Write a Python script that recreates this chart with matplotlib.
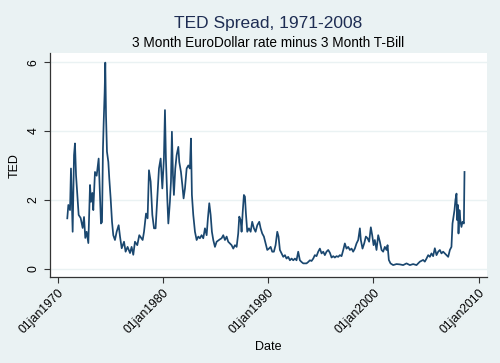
import matplotlib
matplotlib.use("Agg")
import matplotlib.pyplot as plt

# TED spread (percent)
years = [1970.91, 1971.01, 1971.17, 1971.26, 1971.42, 1971.55, 1971.64, 1971.74, 1971.86, 1971.99,
         1972.18, 1972.37, 1972.50, 1972.62, 1972.75, 1972.91, 1973.07, 1973.16, 1973.29, 1973.38,
         1973.54, 1973.70, 1973.89, 1974.02, 1974.11, 1974.21, 1974.30, 1974.37, 1974.46, 1974.52,
         1974.59, 1974.68, 1974.81, 1974.90, 1975.03, 1975.16, 1975.28, 1975.44, 1975.60, 1975.79,
         1975.92, 1976.08, 1976.30, 1976.45, 1976.64, 1976.87, 1977.02, 1977.18, 1977.34, 1977.56,
         1977.75, 1978.07, 1978.20, 1978.39, 1978.54, 1978.67, 1978.83, 1978.99, 1979.15, 1979.30,
         1979.46, 1979.62, 1979.78, 1979.94, 1980.09, 1980.19, 1980.28, 1980.41, 1980.51, 1980.66,
         1980.76, 1980.85, 1980.95, 1981.04, 1981.17, 1981.30, 1981.46, 1981.55, 1981.71, 1981.84,
         1981.96, 1982.09, 1982.25, 1982.41, 1982.56, 1982.66, 1982.75, 1982.88, 1983.04, 1983.20,
         1983.36, 1983.51, 1983.67, 1983.83, 1983.99, 1984.15, 1984.27, 1984.40, 1984.53, 1984.65,
         1984.78, 1984.94, 1985.10, 1985.41, 1985.57, 1985.73, 1985.89, 1986.05, 1986.20, 1986.36,
         1986.52, 1986.68, 1986.84, 1987.00, 1987.15, 1987.25, 1987.38, 1987.47, 1987.57, 1987.69,
         1987.79, 1987.88, 1988.01, 1988.17, 1988.33, 1988.48, 1988.64, 1988.80, 1988.96, 1989.15,
         1989.28, 1989.43, 1989.59, 1989.75, 1989.91, 1990.07, 1990.23, 1990.38, 1990.54, 1990.70,
         1990.86, 1990.98, 1991.11, 1991.27, 1991.43, 1991.59, 1991.74, 1991.90, 1992.06, 1992.22,
         1992.38, 1992.54, 1992.69, 1992.85, 1993.01, 1993.17, 1993.33, 1993.49, 1993.64, 1993.80,
         1993.96, 1994.12, 1994.28, 1994.43, 1994.59, 1994.75, 1994.91, 1995.07, 1995.23, 1995.38,
         1995.54, 1995.70, 1995.86, 1996.02, 1996.18, 1996.33, 1996.49, 1996.65, 1996.81, 1996.97,
         1997.13, 1997.28, 1997.44, 1997.60, 1997.76, 1997.92, 1998.07, 1998.23, 1998.39, 1998.55,
         1998.71, 1998.80, 1998.96, 1999.12, 1999.28, 1999.44, 1999.59, 1999.75, 1999.88, 2000.01,
         2000.13, 2000.29, 2000.45, 2000.61, 2000.77, 2000.92, 2001.08, 2001.24, 2001.34, 2001.46,
         2001.62, 2001.87, 2002.19, 2002.51, 2002.82, 2003.14, 2003.46, 2003.77, 2004.09, 2004.41,
         2004.72, 2004.88, 2005.04, 2005.20, 2005.36, 2005.51, 2005.67, 2005.83, 2005.99, 2006.15,
         2006.31, 2006.46, 2006.62, 2006.78, 2006.94, 2007.10, 2007.26, 2007.41, 2007.51, 2007.60,
         2007.70, 2007.79, 2007.89, 2007.95, 2008.02, 2008.08, 2008.17, 2008.27, 2008.36, 2008.46,
         2008.59, 2008.65]
ted = [1.46, 1.85, 1.70, 2.91, 1.07, 3.30, 3.64, 2.72, 2.14, 1.56,
       1.47, 1.18, 1.50, 0.89, 1.07, 0.74, 2.43, 1.94, 2.20, 1.70,
       2.81, 2.70, 3.20, 2.10, 1.31, 1.35, 3.50, 4.27, 5.14, 5.99,
       4.46, 3.40, 3.10, 2.62, 2.04, 1.36, 0.97, 0.83, 1.07, 1.26,
       0.93, 0.59, 0.78, 0.49, 0.63, 0.45, 0.63, 0.40, 0.78, 0.68,
       0.97, 0.83, 1.07, 1.60, 1.46, 2.86, 2.53, 1.56, 1.17, 1.17,
       2.04, 2.91, 3.20, 2.33, 3.20, 4.61, 3.20, 2.04, 1.31, 1.94,
       2.53, 3.98, 2.72, 2.14, 2.91, 3.30, 3.54, 3.10, 2.81, 2.43,
       2.04, 2.33, 2.91, 3.00, 2.91, 3.78, 2.14, 1.56, 1.07, 0.83,
       0.93, 0.88, 0.97, 0.88, 1.17, 0.97, 1.46, 1.90, 1.56, 1.07,
       0.83, 0.63, 0.78, 0.85, 0.88, 0.97, 0.83, 0.93, 0.78, 0.73,
       0.68, 0.58, 0.68, 0.63, 1.02, 1.51, 1.41, 1.07, 1.61, 2.14,
       2.09, 1.61, 1.07, 1.17, 1.07, 1.36, 1.17, 1.07, 1.26, 1.36,
       1.17, 1.02, 0.93, 0.73, 0.54, 0.58, 0.63, 0.49, 0.49, 0.68,
       1.07, 0.93, 0.54, 0.44, 0.34, 0.39, 0.29, 0.34, 0.24, 0.29,
       0.24, 0.29, 0.24, 0.49, 0.24, 0.19, 0.15, 0.15, 0.15, 0.19,
       0.24, 0.22, 0.29, 0.39, 0.36, 0.49, 0.58, 0.44, 0.49, 0.39,
       0.49, 0.54, 0.46, 0.32, 0.36, 0.32, 0.36, 0.34, 0.39, 0.36,
       0.54, 0.73, 0.58, 0.63, 0.54, 0.58, 0.49, 0.58, 0.73, 0.83,
       1.17, 0.83, 0.58, 0.73, 0.93, 0.88, 0.78, 1.20, 0.97, 0.68,
       0.83, 0.54, 0.97, 0.78, 0.54, 0.49, 0.63, 0.54, 0.68, 0.25,
       0.15, 0.10, 0.13, 0.12, 0.10, 0.15, 0.10, 0.13, 0.10, 0.20,
       0.25, 0.20, 0.29, 0.39, 0.34, 0.44, 0.36, 0.59, 0.39, 0.49,
       0.54, 0.44, 0.49, 0.44, 0.39, 0.34, 0.54, 0.63, 1.31, 1.50,
       1.70, 2.00, 2.18, 1.41, 1.85, 1.02, 1.70, 1.36, 1.21, 1.36,
       1.31, 2.81]

tick_years = [1970, 1980, 1990, 2000, 2010]
tick_labels = ['01jan1970', '01jan1980', '01jan1990', '01jan2000', '01jan2010']
y_ticks = [0, 2, 4, 6]

bg = '#eaf2f3'
navy = '#1a476f'

plt.rcParams['font.family'] = ['Liberation Sans', 'DejaVu Sans']

fig = plt.figure(figsize=(5, 3.63), dpi=100, facecolor=bg)
ax = fig.add_axes([0.099, 0.236, 0.874, 0.617])
ax.set_facecolor('white')

ax.plot(years, ted, color=navy, linewidth=1.25)

ax.set_xlim(1969.22, 2010.74)
ax.set_ylim(-0.256, 6.26)
ax.set_xticks(tick_years)
ax.set_xticklabels(tick_labels, rotation=45, ha='right', va='top', rotation_mode='anchor')
ax.set_yticks(y_ticks)
ax.set_yticklabels([str(v) for v in y_ticks], rotation=90, va='center')
ax.tick_params(axis='both', direction='out', length=4, width=0.8, color='#333333',
               labelsize=8.8, labelcolor='black', pad=3)

ax.grid(axis='y', color=bg, linewidth=1.0)
ax.set_axisbelow(True)
for side in ['top', 'right']:
    ax.spines[side].set_visible(False)
for side in ['left', 'bottom']:
    ax.spines[side].set_color('#333333')
    ax.spines[side].set_linewidth(0.9)

ax.set_ylabel('TED', fontsize=9)
ax.yaxis.set_label_coords(-0.067, 0.5)
ax.set_xlabel('Date', fontsize=9)
ax.xaxis.set_label_coords(0.5, -0.283)

cx = 0.099 + 0.874 / 2
fig.text(cx, 0.936, 'TED Spread, 1971-2008', ha='center', va='center', fontsize=12.5, color='#1e2d53')
fig.text(cx, 0.881, '3 Month EuroDollar rate minus 3 Month T-Bill', ha='center', va='center',
         fontsize=9.8, color='black')

fig.savefig('out.png', dpi=100, facecolor=bg)
